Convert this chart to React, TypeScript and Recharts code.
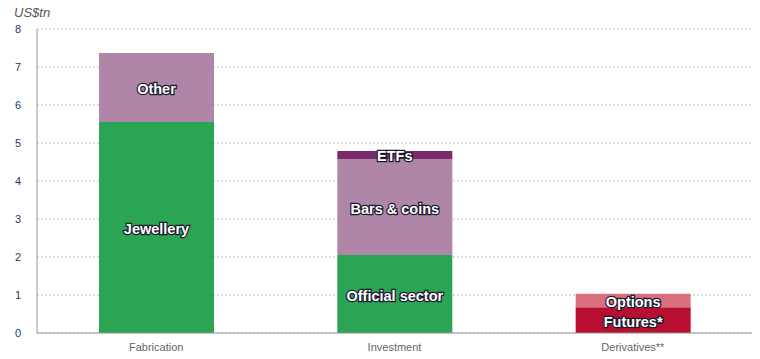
import { BarChart, Bar, XAxis, YAxis, CartesianGrid, LabelList } from 'recharts'

const categories = ['Fabrication', 'Investment', 'Derivatives**']
const jewellery = [5.55, 0, 0]
const other = [1.82, 0, 0]
const officialSector = [0, 2.05, 0]
const barsCoins = [0, 2.53, 0]
const etfs = [0, 0.21, 0]
const futures = [0, 0, 0.68]
const options = [0, 0, 0.35]
const yTicks = [0, 1, 2, 3, 4, 5, 6, 7, 8]

const series = [
  { key: 'jewellery', name: 'Jewellery', values: jewellery, color: '#2ba453' },
  { key: 'other', name: 'Other', values: other, color: '#b086a8' },
  { key: 'official', name: 'Official sector', values: officialSector, color: '#2ba453' },
  { key: 'barsCoins', name: 'Bars & coins', values: barsCoins, color: '#b086a8' },
  { key: 'etfs', name: 'ETFs', values: etfs, color: '#7c2a6e' },
  { key: 'futures', name: 'Futures*', values: futures, color: '#b80e2f' },
  { key: 'options', name: 'Options', values: options, color: '#d8717d' },
]

const data = categories.map((c, i) => {
  const row: Record<string, string | number | null> = { cat: c }
  series.forEach((s) => {
    row[s.key] = s.values[i] > 0 ? s.values[i] : null
  })
  return row
})

// white bold label with a dark outline, centred in its segment
const makeLabel = (name: string) => (props: any) => {
  const { x, y, width, height, value } = props
  if (!value) return null
  return (
    <text
      x={x + width / 2}
      y={y + height / 2 + 1.5}
      textAnchor="middle"
      dominantBaseline="central"
      fill="#fff"
      stroke="#1a1a2e"
      strokeWidth={2.5}
      paintOrder="stroke"
      fontSize={14.5}
      fontWeight="bold"
      fontFamily="Liberation Sans, Arial, sans-serif"
    >
      {name}
    </text>
  )
}

export default function App() {
  return (
    <div style={{ position: 'absolute', left: 0, top: 0, width: 760, height: 359, background: '#fff' }}>
      <span
        style={{
          position: 'absolute',
          left: 14,
          top: 5,
          fontFamily: 'Liberation Sans, Arial, sans-serif',
          fontStyle: 'italic',
          fontSize: 13,
          color: '#555',
        }}
      >
        US$tn
      </span>
      <BarChart
        width={760}
        height={359}
        data={data}
        margin={{ top: 29, right: 8, left: 0, bottom: 6 }}
        barSize={115}
      >
        <CartesianGrid strokeDasharray="2 2" stroke="#bbb" vertical={false} />
        <XAxis
          dataKey="cat"
          tickLine={false}
          axisLine={{ stroke: '#999' }}
          height={20}
          tick={{ fontSize: 11, fill: '#666', fontFamily: 'Liberation Sans, Arial, sans-serif' }}
          tickMargin={4}
        />
        <YAxis
          domain={[0, 8]}
          ticks={yTicks}
          width={37}
          tickLine={false}
          axisLine={{ stroke: '#999' }}
          tickMargin={10}
          tick={{ fontSize: 11, fill: '#2b3a55', fontFamily: 'Liberation Sans, Arial, sans-serif' }}
          interval={0}
        />
        {series.map((s) => (
          <Bar key={s.key} dataKey={s.key} name={s.name} stackId="a" fill={s.color} isAnimationActive={false}>
            <LabelList dataKey={s.key} content={makeLabel(s.name)} />
          </Bar>
        ))}
      </BarChart>
    </div>
  )
}
